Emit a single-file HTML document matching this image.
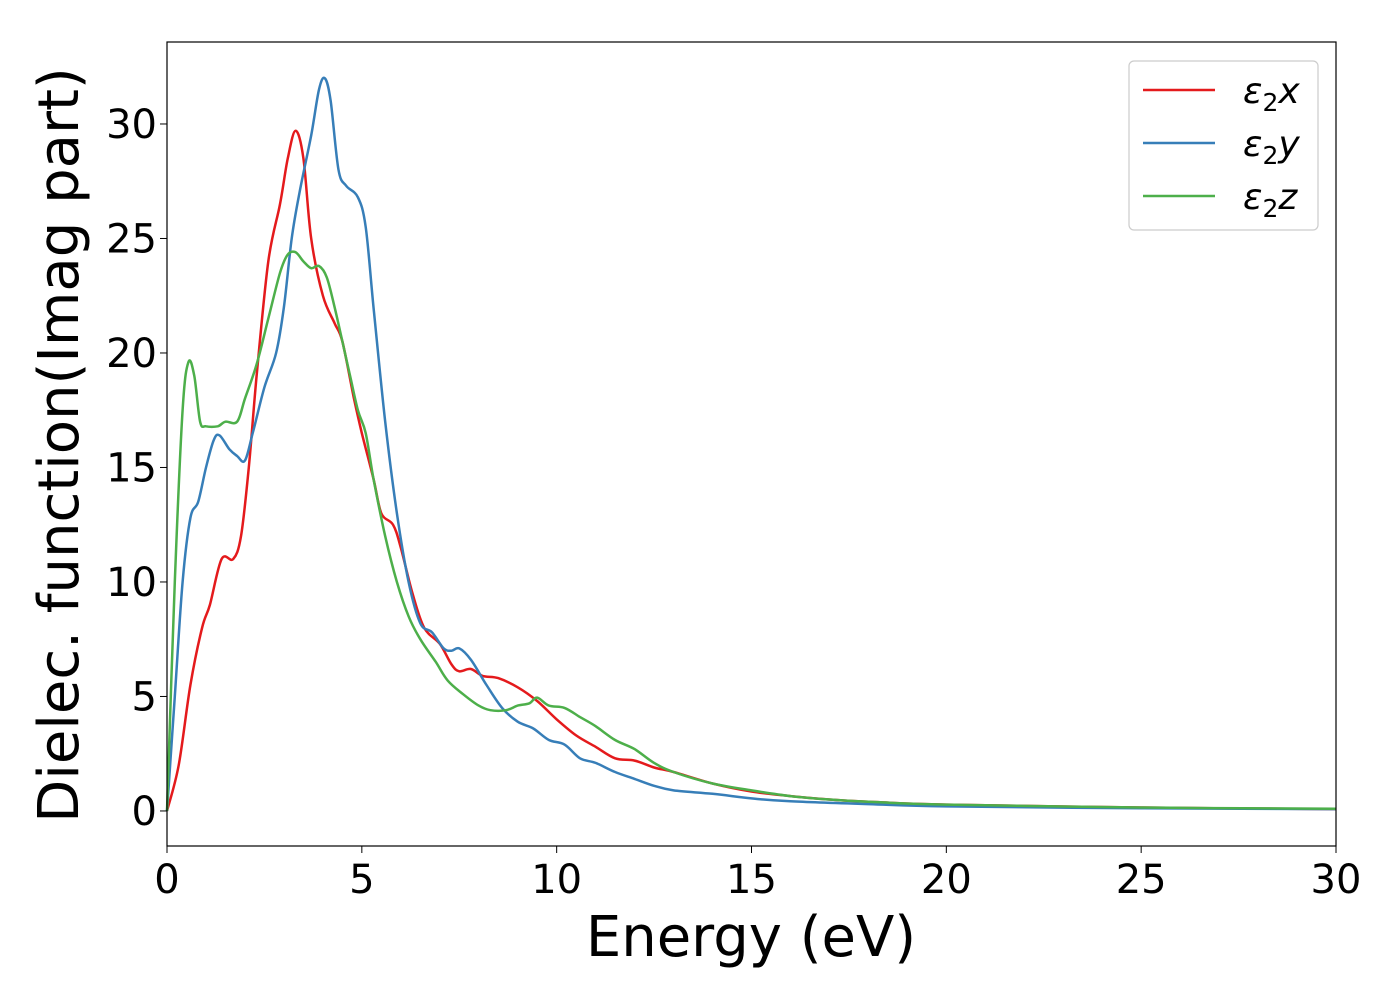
<!DOCTYPE html>
<html><head><meta charset="utf-8"><style>
body{margin:0;background:#fff}
text{font-family:"DejaVu Sans","Liberation Sans",sans-serif;fill:#000}
</style></head><body>
<svg id="chart" width="1400" height="1000" xmlns="http://www.w3.org/2000/svg">
<rect width="1400" height="1000" fill="#fff"/>
<g id="plot"></g>
<rect x="167" y="42" width="1169" height="804" fill="none" stroke="#000" stroke-width="1.2"/>
<g id="ticks"></g>
<text x="751" y="956" font-size="56" text-anchor="middle">Energy (eV)</text>
<text transform="translate(78,445) rotate(-90)" font-size="56" text-anchor="middle">Dielec. function(Imag part)</text>
<g>
<rect x="1129" y="61" width="189" height="169" rx="5" fill="#fff" stroke="#ccc" stroke-width="1.2"/>
<line x1="1143" y1="90" x2="1215" y2="90" stroke="#e41a1c" stroke-width="2.5"/>
<line x1="1143" y1="143" x2="1215" y2="143" stroke="#377eb8" stroke-width="2.5"/>
<line x1="1143" y1="196" x2="1215" y2="196" stroke="#4daf4a" stroke-width="2.5"/>
<text x="1243" y="103" font-size="36" font-style="italic">ε<tspan font-style="normal" font-size="25" dy="8">2</tspan><tspan dy="-8">x</tspan></text>
<text x="1243" y="156" font-size="36" font-style="italic">ε<tspan font-style="normal" font-size="25" dy="8">2</tspan><tspan dy="-8">y</tspan></text>
<text x="1243" y="209" font-size="36" font-style="italic">ε<tspan font-style="normal" font-size="25" dy="8">2</tspan><tspan dy="-8">z</tspan></text>
</g>
</svg>
<script>
const xTicks=[0,5,10,15,20,25,30];
const yTicks=[0,5,10,15,20,25,30];
const redE=[0,0.3,0.6,0.9,1.1,1.4,1.7,1.9,2.1,2.3,2.6,2.9,3.1,3.3,3.5,3.7,4.0,4.3,4.5,4.8,5.0,5.3,5.5,5.8,6.0,6.3,6.6,7.0,7.3,7.5,7.8,8.1,8.5,9.0,9.5,10.0,10.5,11.0,11.5,12.0,12.5,13.0,14,15,16,17,18,20,25,30];
const redV=[0,2,5.5,8,9,11,11,12,15,19,24,26.5,28.5,29.7,28.5,25,22.5,21.3,20.5,18,16.5,14.5,13,12.5,11.5,9.5,8,7.3,6.4,6.1,6.2,5.9,5.8,5.4,4.8,4.0,3.3,2.8,2.3,2.2,1.9,1.7,1.2,0.85,0.65,0.5,0.4,0.28,0.15,0.08];
const blueE=[0,0.2,0.4,0.6,0.8,1.0,1.2,1.35,1.6,1.8,2.0,2.2,2.5,2.8,3.0,3.2,3.4,3.7,3.9,4.05,4.2,4.4,4.6,4.9,5.1,5.3,5.6,5.9,6.2,6.5,6.8,7.1,7.3,7.5,7.8,8.2,8.6,9.0,9.4,9.8,10.2,10.6,11,11.5,12,12.5,13,14,15,16,18,20,25,30];
const blueV=[0,5,10,12.8,13.5,15,16.2,16.4,15.8,15.5,15.3,16.5,18.5,20,22,25,27,29.5,31.5,32,31,28,27.3,26.8,25.5,22,17,13,10,8.2,7.8,7.1,7.0,7.1,6.6,5.5,4.5,3.9,3.6,3.1,2.9,2.3,2.1,1.7,1.4,1.1,0.9,0.75,0.55,0.42,0.3,0.2,0.12,0.08];
const greenE=[0,0.2,0.4,0.55,0.7,0.85,1.0,1.3,1.5,1.8,2.0,2.3,2.6,2.9,3.1,3.3,3.5,3.7,3.9,4.1,4.3,4.5,4.7,4.9,5.1,5.3,5.6,5.9,6.2,6.5,6.9,7.2,7.6,8.0,8.3,8.7,9.0,9.3,9.5,9.8,10.2,10.6,11,11.5,12,12.5,13,14,15,16,17,18,20,25,30];
const greenV=[0,10,17.5,19.6,19,17,16.8,16.8,17,17,18,19.5,21.5,23.5,24.3,24.4,24,23.7,23.8,23.3,22,20.5,19,17.5,16.5,14.5,12,10,8.5,7.5,6.5,5.7,5.1,4.6,4.4,4.4,4.6,4.7,4.95,4.6,4.5,4.1,3.7,3.1,2.7,2.1,1.7,1.2,0.9,0.65,0.5,0.4,0.28,0.15,0.1];
const NS='http://www.w3.org/2000/svg';
const L=167,R=1336,T=42,B=846,x0=0,x1=30,y0=-1.53,y1=33.58;
const sx=e=>L+(e-x0)/(x1-x0)*(R-L);
const sy=v=>B-(v-y0)/(y1-y0)*(B-T);
function pathFrom(E,V){
  const p=E.map((e,i)=>[sx(e),sy(V[i])]);
  let d='M'+p[0][0].toFixed(1)+','+p[0][1].toFixed(1);
  for(let i=0;i<p.length-1;i++){
    const a=p[Math.max(i-1,0)],b=p[i],c=p[i+1],n=p[Math.min(i+2,p.length-1)];
    const c1=[b[0]+(c[0]-a[0])/6,b[1]+(c[1]-a[1])/6],c2=[c[0]-(n[0]-b[0])/6,c[1]-(n[1]-b[1])/6];
    d+='C'+c1.map(v=>v.toFixed(1))+' '+c2.map(v=>v.toFixed(1))+' '+c[0].toFixed(1)+','+c[1].toFixed(1);
  }
  return d;
}
const plot=document.getElementById('plot');
[[redE,redV,'#e41a1c','series-eps2x'],[blueE,blueV,'#377eb8','series-eps2y'],[greenE,greenV,'#4daf4a','series-eps2z']].forEach(s=>{
  const el=document.createElementNS(NS,'path');
  el.setAttribute('d',pathFrom(s[0],s[1]));
  el.setAttribute('fill','none');el.setAttribute('stroke',s[2]);el.setAttribute('stroke-width','2.5');
  
  
  plot.appendChild(el);
});
const tg=document.getElementById('ticks');
xTicks.forEach(t=>{
  const ln=document.createElementNS(NS,'line');
  ln.setAttribute('x1',sx(t));ln.setAttribute('x2',sx(t));ln.setAttribute('y1',B);ln.setAttribute('y2',B+7);ln.setAttribute('stroke','#000');
  
  
  tg.appendChild(ln);
  const tx=document.createElementNS(NS,'text');
  tx.setAttribute('x',sx(t));tx.setAttribute('y',893);tx.setAttribute('font-size','40');tx.setAttribute('text-anchor','middle');
  tx.textContent=t;
  
  
  tg.appendChild(tx);
});
yTicks.forEach(t=>{
  const ln=document.createElementNS(NS,'line');
  ln.setAttribute('x1',L-7);ln.setAttribute('x2',L);ln.setAttribute('y1',sy(t));ln.setAttribute('y2',sy(t));ln.setAttribute('stroke','#000');
  
  
  tg.appendChild(ln);
  const tx=document.createElementNS(NS,'text');
  tx.setAttribute('x',157);tx.setAttribute('y',sy(t)+14);tx.setAttribute('font-size','40');tx.setAttribute('text-anchor','end');
  tx.textContent=t;
  
  
  tg.appendChild(tx);
});
</script>
</body></html>
